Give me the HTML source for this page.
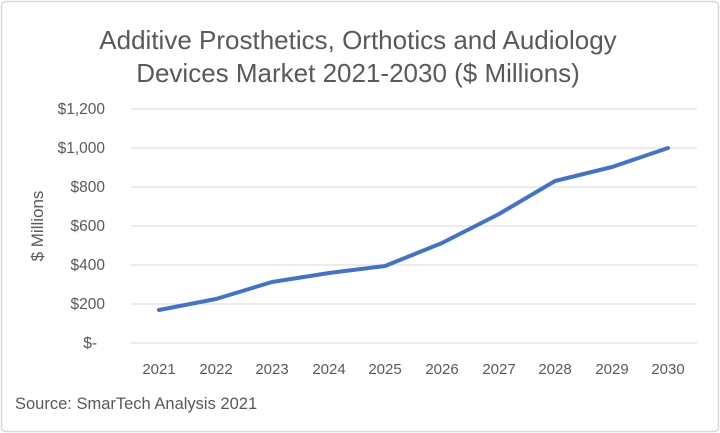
<!DOCTYPE html>
<html><head><style>
body{margin:0;background:#fff;}
svg{display:block;font-family:"Liberation Sans",Arial,sans-serif;}
</style></head><body>
<svg width="720" height="433" viewBox="0 0 720 433">
<rect x="1.5" y="1.5" width="717" height="430" rx="4" fill="#fff" stroke="#d9d9d9" stroke-width="1.5"/>
<g fill="#595959" font-size="26" text-anchor="middle">
<text x="358" y="49">Additive Prosthetics, Orthotics and Audiology</text>
<text x="358" y="82">Devices Market 2021-2030 ($ Millions)</text>
</g>
<g stroke="#d9d9d9" stroke-width="1">
<line x1="131" x2="697" y1="109" y2="109"/>
<line x1="131" x2="697" y1="148" y2="148"/>
<line x1="131" x2="697" y1="187" y2="187"/>
<line x1="131" x2="697" y1="226" y2="226"/>
<line x1="131" x2="697" y1="265" y2="265"/>
<line x1="131" x2="697" y1="304" y2="304"/>
<line x1="131" x2="697" y1="343" y2="343"/>
</g>
<g fill="#595959" font-size="15.5" text-anchor="end">
<text x="105" y="114">$1,200</text>
<text x="105" y="153">$1,000</text>
<text x="105" y="192">$800</text>
<text x="105" y="231">$600</text>
<text x="105" y="270">$400</text>
<text x="105" y="309">$200</text>
<text x="97" y="348">$-</text>
</g>
<g fill="#595959" font-size="15" text-anchor="middle">
<text x="159" y="374">2021</text><text x="216" y="374">2022</text><text x="272" y="374">2023</text>
<text x="329" y="374">2024</text><text x="385" y="374">2025</text><text x="442" y="374">2026</text>
<text x="499" y="374">2027</text><text x="555" y="374">2028</text><text x="612" y="374">2029</text>
<text x="668" y="374">2030</text>
</g>
<text transform="translate(43,226) rotate(-90)" fill="#595959" font-size="17" text-anchor="middle">$ Millions</text>
<polyline fill="none" stroke="#4472c4" stroke-width="4" stroke-linejoin="round" stroke-linecap="round"
points="159,310 216,299 272,282 329,273 385,266 442,243 499,214 555,181 612,167 668,148"/>
<text x="15" y="409" fill="#595959" font-size="16.5">Source: SmarTech Analysis 2021</text>
</svg>
</body></html>
